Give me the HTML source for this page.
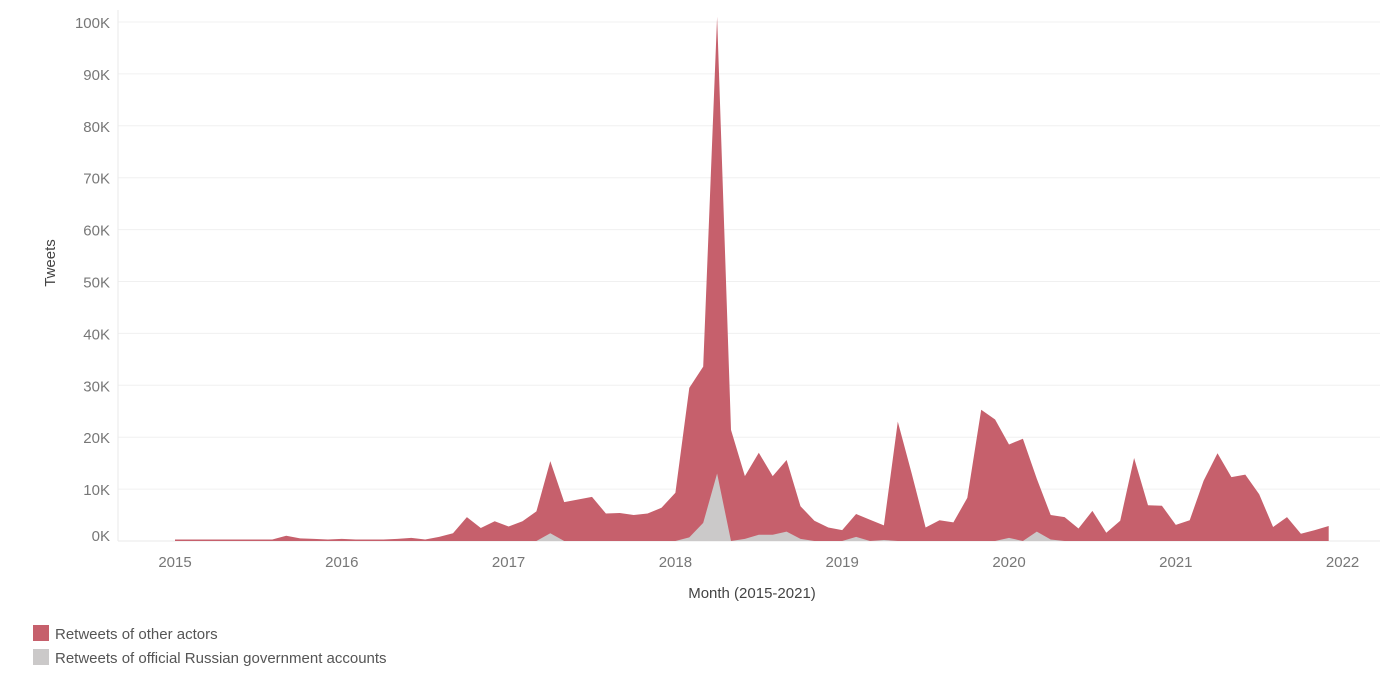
<!DOCTYPE html>
<html><head><meta charset="utf-8"><style>
body{margin:0;background:#fff;width:1398px;height:686px;overflow:hidden;font-family:"Liberation Sans",sans-serif}
</style></head><body>
<svg id="chart" width="1398" height="686" xmlns="http://www.w3.org/2000/svg"></svg>
<script>
const startYear = 2015;
const otherActors = [0.3,0.3,0.3,0.3,0.3,0.3,0.3,0.3,1.0,0.5,0.4,0.3,
0.4,0.3,0.3,0.3,0.4,0.6,0.3,0.8,1.5,4.6,2.5,3.8,
2.8,3.8,5.7,13.9,7.5,8,8.5,5.3,5.4,5,5.3,6.4,
9.3,28.8,30.1,88,21.4,12.1,15.8,11.3,13.8,6.3,3.9,2.6,
2.1,4.4,4.1,2.8,23,13,2.6,4,3.6,8.3,25.3,23.4,
18,19.7,10.2,4.7,4.6,2.4,5.8,1.6,3.9,16,6.9,6.8,
3.1,4,11.6,16.9,12.3,12.8,9,2.7,4.6,1.4,2.1,2.9];
const govAccounts = [0,0,0,0,0,0,0,0,0,0,0,0,
0,0,0,0,0,0,0,0,0,0,0,0,
0,0,0,1.5,0,0,0,0,0,0,0,0,
0,0.7,3.5,13,0,0.4,1.2,1.2,1.8,0.4,0,0,
0,0.8,0,0.2,0,0,0,0,0,0,0,0,
0.6,0,1.8,0.3,0,0,0,0,0,0,0,0,
0,0,0,0,0,0,0,0,0,0,0,0];
const yTicks = [0,10,20,30,40,50,60,70,80,90,100];
const xTicks = [2015,2016,2017,2018,2019,2020,2021,2022];

const svg = document.getElementById('chart');
const NS = 'http://www.w3.org/2000/svg';
const x0 = 175, monthW = 13.9, yBase = 541, yPerK = 5.19;
const xPos = i => x0 + i * monthW;
const xYear = yr => x0 + (yr - startYear) * 12 * monthW;
const yPos = v => yBase - v * yPerK;
function mk(tag, attrs){const e=document.createElementNS(NS,tag);for(const k in attrs)e.setAttribute(k,attrs[k]);svg.appendChild(e);return e;}

yTicks.forEach(t=>{
  const g = mk('line',{x1:118,x2:1380,y1:yPos(t),y2:yPos(t),stroke:'#f0f0f0','stroke-width':1});
  
  
  const l = mk('text',{x:110,y:yPos(t)+6 - (t===0?6:0),'text-anchor':'end','font-size':15,fill:'#777'});
  l.textContent = t+'K';
  
  
});
const ax = mk('line',{x1:118,x2:118,y1:10,y2:541,stroke:'#eaeaea'});


const bx = mk('line',{x1:118,x2:1380,y1:541,y2:541,stroke:'#eaeaea'});



// stacked areas
let topPts=[], grayPts=[];
for(let i=0;i<otherActors.length;i++){
  const g=govAccounts[i], t=g+otherActors[i];
  topPts.push(xPos(i)+','+yPos(t));
  grayPts.push(xPos(i)+','+yPos(g));
}
const last = xPos(otherActors.length-1);
const red = mk('polygon',{points:x0+','+yBase+' '+topPts.join(' ')+' '+last+','+yBase,fill:'#c6606c'});


const gray = mk('polygon',{points:x0+','+yBase+' '+grayPts.join(' ')+' '+last+','+yBase,fill:'#cbc9c9'});



xTicks.forEach(yr=>{
  const l = mk('text',{x:xYear(yr),y:567,'text-anchor':'middle','font-size':15,fill:'#777'});
  l.textContent = yr;
  
  
});
const xt = mk('text',{x:752,y:598,'text-anchor':'middle','font-size':15,fill:'#444'});
xt.textContent='Month (2015-2021)';


const yt = mk('text',{x:0,y:0,'text-anchor':'middle','font-size':15,fill:'#444',transform:'translate(55,263) rotate(-90)'});
yt.textContent='Tweets';



const items=[['Retweets of other actors','#c6606c',625],['Retweets of official Russian government accounts','#cbc9c9',649]];
items.forEach(([txt,c,y])=>{
  const r = mk('rect',{x:33,y:y,width:16,height:16,fill:c});
  
  
  const t = mk('text',{x:55,y:y+14,'font-size':15,fill:'#555'});
  t.textContent=txt;
  
  
});
</script>
</body></html>
